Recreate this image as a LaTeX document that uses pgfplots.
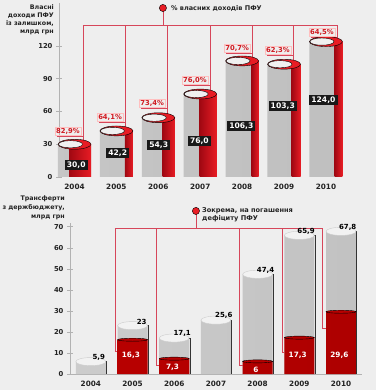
\documentclass[border=0pt]{standalone}
\usepackage{pgfplots}
\pgfplotsset{compat=1.18}
\usepackage{fontspec}
\setmainfont{DejaVu Sans}
\definecolor{bg}{RGB}{238,238,238}
\definecolor{myred}{RGB}{232,28,36}
\definecolor{dred}{RGB}{160,8,18}
\definecolor{pline}{RGB}{214,70,90}
\definecolor{txt}{RGB}{35,35,35}
\begin{document}
\begin{tikzpicture}[x=1pt,y=1pt]
\fill[bg] (0,0) rectangle (376,390);
% ---------------- top chart ----------------
\begin{axis}[
  at={(59pt,213pt)}, anchor=south west,
  scale only axis, width=292.9pt, height=173.6pt,
  xmin=-0.37, xmax=6.62, ymin=0, ymax=159,
  axis lines=left,
  axis line style={-, draw=gray!60, line width=0.5pt},
  x axis line style={draw=none},
  xtick={0,...,6}, xticklabels={2004,2005,2006,2007,2008,2009,2010},
  xtick style={draw=none},
  ytick={0,30,60,90,120},
  ytick style={draw=gray!60, line width=0.5pt},
  tick align=center, major tick length=6pt,
  /pgf/number format/assume math mode=true,
  yticklabel style={font=\bfseries\fontsize{6.8}{7}\selectfont, text=txt},
  xticklabel style={font=\bfseries\fontsize{7.3}{8}\selectfont, text=txt, yshift=-0.5pt},
  clip=false, unbounded coords=jump,
]
% red bracket lines
\addplot[pline, line width=0.6pt, mark=none] coordinates {
 (0.20,139.2) (6.26,139.2) (0,nan)
 (2.11,154.8) (2.11,139.2) (0,nan)
 (0.20,139.2) (0.20,30) (0,nan) (-0.42,37.6) (0.20,37.6) (0,nan)
 (1.205,139.2) (1.205,42.2) (0,nan) (0.585,50.4) (1.205,50.4) (0,nan)
 (2.21,139.2) (2.21,54.3) (0,nan) (1.59,63.2) (2.21,63.2) (0,nan)
 (3.23,139.2) (3.23,76.0) (0,nan) (2.61,84.3) (3.23,84.3) (0,nan)
 (4.24,139.2) (4.24,106.3) (0,nan) (3.62,113.6) (4.24,113.6) (0,nan)
 (5.21,139.2) (5.21,103.3) (0,nan) (4.59,111.8) (5.21,111.8) (0,nan)
 (6.26,139.2) (6.26,124.0) (0,nan) (5.64,128.2) (6.26,128.2)
};
\addplot[only marks, mark=*, mark size=3.6pt, mark options={fill=myred, draw=none}] coordinates {(2.11,154.8)};
% gray cylinders
\addplot[ybar, bar width=0.79, bar shift=0, draw=none, left color=gray!45, middle color=gray!12, right color=gray!50] coordinates
 {(0,30.0) (1,42.2) (2,54.3) (3,76.0) (4,106.3) (5,103.3) (6,124.0)};
% red parts
\addplot[ybar, bar width=0.525, bar shift=0.1325, draw=none, left color=dred, right color=myred] coordinates {(0,30.0)};
\addplot[ybar, bar width=0.19, bar shift=0.3, draw=none, left color=dred, right color=myred] coordinates {(1,42.2)};
\addplot[ybar, bar width=0.29, bar shift=0.25, draw=none, left color=dred, right color=myred] coordinates {(2,54.3)};
\addplot[ybar, bar width=0.41, bar shift=0.19, draw=none, left color=dred, right color=myred] coordinates {(3,76.0)};
\addplot[ybar, bar width=0.17, bar shift=0.31, draw=none, left color=dred, right color=myred] coordinates {(4,106.3)};
\addplot[ybar, bar width=0.215, bar shift=0.29, draw=none, left color=dred, right color=myred] coordinates {(5,103.3)};
\addplot[ybar, bar width=0.19, bar shift=0.3, draw=none, left color=dred, right color=myred] coordinates {(6,124.0)};
% cylinder tops
\addplot[only marks, mark=*, mark size=16.5pt, mark options={yscale=0.3, fill=myred, draw=none}] coordinates
 {(0,30.0) (1,42.2) (2,54.3) (3,76.0) (4,106.3) (5,103.3) (6,124.0)};
\addplot[only marks, mark=*, mark size=12pt, mark options={yscale=0.3, xshift=-4pt, fill=gray!12, draw=none}] coordinates
 {(0,30.0) (1,42.2) (2,54.3) (3,76.0) (4,106.3) (5,103.3) (6,124.0)};
% value boxes
\addplot[draw=none, mark=none, nodes near coords, point meta=explicit symbolic,
  nodes near coords style={anchor=center, fill=black!90, text=white, inner xsep=2.2pt, inner ysep=1.8pt, font=\bfseries\fontsize{7.6}{9}\selectfont}] coordinates
 {(0.04,11.0) [30,0] (1.03,22.0) [42,2] (2.01,29.3) [54,3] (2.98,33.0) [76,0] (3.98,46.7) [106,3] (4.97,65.0) [103,3] (5.94,70.5) [124,0]};
% percentages
\addplot[draw=none, mark=none, nodes near coords, point meta=explicit symbolic,
  nodes near coords style={anchor=south east, text=myred!90!black, draw=red!25, line width=0.3pt, inner sep=1pt, xshift=-2pt, yshift=0.6pt, font=\bfseries\fontsize{6.8}{8}\selectfont}] coordinates
 {(0.20,37.6) [82,9\%] (1.205,50.4) [64,1\%] (2.21,63.2) [73,4\%] (3.23,84.3) [76,0\%] (4.24,113.6) [70,7\%] (5.21,111.8) [62,3\%] (6.26,128.2) [64,5\%]};
\end{axis}
\node[anchor=north east, align=right, inner sep=0pt, text=txt, font=\bfseries\fontsize{6.3}{8}\selectfont] at (54,385) {Власні\\доходи ПФУ\\із залишком,\\млрд грн};
\node[anchor=west, inner sep=0pt, text=txt, font=\bfseries\fontsize{6.5}{8}\selectfont] at (171,382) {\% власних доходів ПФУ};
% ---------------- bottom chart ----------------
\begin{axis}[
  at={(70pt,16pt)}, anchor=south west,
  scale only axis, width=291.9pt, height=151.5pt,
  xmin=-0.5, xmax=6.5, ymin=0, ymax=72,
  axis lines=left,
  axis line style={-, draw=gray!60, line width=0.5pt},
  xtick={0,...,6}, xticklabels={2004,2005,2006,2007,2008,2009,2010},
  xtick style={draw=none},
  ytick={0,10,...,70},
  ytick style={draw=gray!60, line width=0.5pt},
  tick align=center, major tick length=6pt,
  /pgf/number format/assume math mode=true,
  yticklabel style={font=\bfseries\fontsize{6.8}{7}\selectfont, text=txt},
  xticklabel style={font=\bfseries\fontsize{7.3}{8}\selectfont, text=txt, yshift=-0.5pt},
  clip=false, unbounded coords=jump,
]
\addplot[pline, line width=0.6pt, mark=none] coordinates {
 (0.576,69.2) (5.56,69.2) (0,nan)
 (2.52,77.5) (2.52,69.2) (0,nan)
 (0.576,69.2) (0.576,10.6) (0.64,10.6) (0,nan)
 (1.58,69.2) (1.58,4.3) (1.64,4.3) (0,nan)
 (3.55,69.2) (3.55,4.0) (3.64,4.0) (0,nan)
 (4.58,69.2) (4.58,10.2) (4.64,10.2) (0,nan)
 (5.56,69.2) (5.56,21.7) (5.64,21.7)
};
\addplot[only marks, mark=*, mark size=3.6pt, mark options={fill=myred, draw=none}] coordinates {(2.52,77.5)};
% gray cylinders
\addplot[ybar, bar width=0.72, bar shift=0, draw=none, left color=gray!40, middle color=gray!12, right color=gray!48] coordinates
 {(0,5.9) (1,23) (2,17.1) (3,25.6) (4,47.4) (5,65.9) (6,67.8)};
\addplot[only marks, mark=*, mark size=15pt, mark options={yscale=0.27, fill=gray!10, draw=gray!40, line width=0.4pt}] coordinates
 {(0,5.9) (1,23) (2,17.1) (3,25.6) (4,47.4) (5,65.9) (6,67.8)};
% red parts
\addplot[ybar, bar width=0.72, bar shift=0, draw=none, left color=red!72!black, middle color=myred!92!black, right color=red!68!black] coordinates
 {(1,16.3) (2,7.3) (4,6) (5,17.3) (6,29.6)};
\addplot[only marks, mark=*, mark size=15pt, mark options={yscale=0.1, fill=red!72!black, draw=none}] coordinates
 {(1,16.3) (2,7.3) (4,6) (5,17.3) (6,29.6)};
% brackets
\addplot[black!80, line width=1.0pt, mark=none] coordinates {
 (0.02,5.9) (0.38,5.9) (0.38,0) (0,nan)
 (1.02,23) (1.38,23) (1.38,0) (0,nan)
 (2.02,17.1) (2.38,17.1) (2.38,0) (0,nan)
 (3.02,25.6) (3.38,25.6) (3.38,0) (0,nan)
 (4.02,47.4) (4.38,47.4) (4.38,0) (0,nan)
 (5.02,65.9) (5.38,65.9) (5.38,0) (0,nan)
 (6.02,67.8) (6.38,67.8) (6.38,0)
};
\addplot[draw=none, mark=none, nodes near coords, point meta=explicit symbolic,
  nodes near coords style={anchor=south, text=black, inner sep=1pt, font=\bfseries\fontsize{7}{8}\selectfont}] coordinates
 {(0.19,5.9) [5,9] (1.22,23) [23] (2.19,17.1) [17,1] (3.19,25.6) [25,6] (4.19,47.4) [47,4] (5.16,65.9) [65,9] (6.16,67.8) [67,8]};
\addplot[draw=none, mark=none, nodes near coords, point meta=explicit symbolic,
  nodes near coords style={anchor=center, text=white, inner sep=0pt, font=\bfseries\fontsize{7.3}{8}\selectfont}] coordinates
 {(0.96,9.0) [16,3] (1.96,3.0) [7,3] (3.96,2.2) [6] (4.96,9.0) [17,3] (5.96,9.0) [29,6]};
\end{axis}
\node[anchor=north east, align=right, inner sep=0pt, text=txt, font=\bfseries\fontsize{6.3}{8.8}\selectfont] at (65,194) {Трансферти\\з держбюджету,\\млрд грн};
\node[anchor=north west, align=left, inner sep=0pt, text=txt, font=\bfseries\fontsize{6.6}{8.3}\selectfont] at (202,183) {Зокрема, на погашення\\дефіциту ПФУ};
\end{tikzpicture}
\end{document}
